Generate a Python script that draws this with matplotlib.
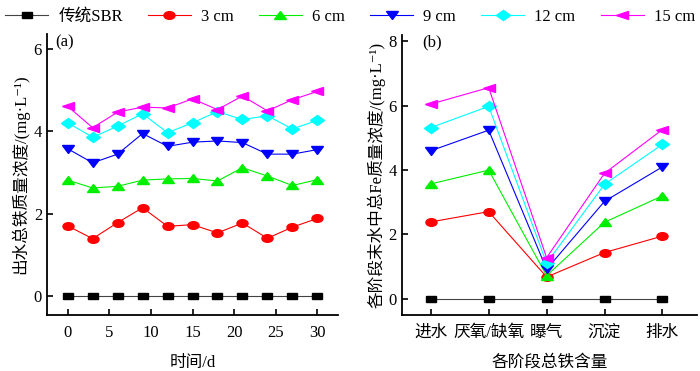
import matplotlib
matplotlib.use("Agg")
import matplotlib.pyplot as plt
from matplotlib.markers import MarkerStyle
from matplotlib.transforms import Affine2D

plt.rcParams['font.family'] = ['Liberation Serif', 'Noto Sans CJK SC', 'DejaVu Sans']

# ---- data ----
series_labels = ['传统SBR', '3 cm', '6 cm', '9 cm', '12 cm', '15 cm']
days = [0, 3, 6, 9, 12, 15, 18, 21, 24, 27, 30]
a_sbr = [0, 0, 0, 0, 0, 0, 0, 0, 0, 0, 0]
a_3 = [1.70, 1.39, 1.78, 2.14, 1.69, 1.73, 1.53, 1.77, 1.40, 1.67, 1.88]
a_6 = [2.81, 2.62, 2.66, 2.81, 2.84, 2.85, 2.79, 3.11, 2.91, 2.68, 2.82]
a_9 = [3.57, 3.23, 3.44, 3.94, 3.63, 3.73, 3.76, 3.72, 3.44, 3.44, 3.55]
a_12 = [4.20, 3.85, 4.12, 4.42, 3.96, 4.20, 4.47, 4.28, 4.37, 4.05, 4.26]
a_15 = [4.60, 4.08, 4.46, 4.58, 4.56, 4.78, 4.52, 4.85, 4.49, 4.76, 4.96]

stages = ['进水', '厌氧/缺氧', '曝气', '沉淀', '排水']
b_sbr = [0, 0, 0, 0, 0]
b_3 = [2.39, 2.71, 0.68, 1.44, 1.95]
b_6 = [3.57, 4.00, 0.72, 2.38, 3.20]
b_9 = [4.60, 5.24, 0.92, 3.03, 4.10]
b_12 = [5.32, 5.98, 1.11, 3.56, 4.80]
b_15 = [6.05, 6.56, 1.28, 3.90, 5.26]

a_x_ticks = [0, 5, 10, 15, 20, 25, 30]

# ---- styles ----
colors = ['#444444', '#ff0000', '#00ee00', '#0000ff', '#00ffff', '#ff00ff']
base_markers = ['s', 'o', '^', 'v', 'D', '<']
msizes = [5, 5.5, 5.5, 5.5, 5, 5.5]

def mk(m):
    return MarkerStyle(m, transform=Affine2D().scale(1.45, 1.0))

fig = plt.figure(figsize=(7.0, 3.71), dpi=100)
axa = fig.add_axes([0.067, 0.151, 0.416, 0.757])
axb = fig.add_axes([0.574, 0.151, 0.422, 0.755])

a_series = [a_sbr, a_3, a_6, a_9, a_12, a_15]
b_series = [b_sbr, b_3, b_6, b_9, b_12, b_15]
bx = list(range(len(stages)))

handles = []
for i in range(6):
    mc = 'black' if i == 0 else colors[i]
    h, = axa.plot(days, a_series[i], color=colors[i], lw=0.8,
                  marker=mk(base_markers[i]), ms=msizes[i],
                  mfc=mc, mec=mc, label=series_labels[i])
    handles.append(h)
    axb.plot(bx, b_series[i], color=colors[i], lw=0.8,
             marker=mk(base_markers[i]), ms=msizes[i], mfc=mc, mec=mc)

fs = 12
for ax in (axa, axb):
    ax.spines['top'].set_visible(False)
    ax.spines['right'].set_visible(False)
    ax.spines['left'].set_linewidth(1.3)
    ax.spines['bottom'].set_linewidth(1.3)
    ax.tick_params(direction='in', length=4, width=1.2, labelsize=fs)
    ax.tick_params(axis='x', pad=7)

axa.set_xlim(-2.5, 32.5)
axa.set_ylim(-0.46, 6.35)
axa.set_xticks(a_x_ticks)
axa.set_yticks([0, 2, 4, 6])
axa.set_xlabel('时间/d', fontsize=fs, labelpad=10)
axa.set_ylabel('出水总铁质量浓度/(mg·L⁻¹)', fontsize=fs, labelpad=3)
axa.text(0.03, 1.0, '(a)', transform=axa.transAxes, fontsize=fs, va='top', ha='left')

axb.set_xlim(-0.5, 4.6)
axb.set_ylim(-0.5, 8.2)
axb.set_xticks(bx)
axb.set_xticklabels(stages)
axb.set_yticks([0, 2, 4, 6, 8])
axb.set_xlabel('各阶段总铁含量', fontsize=fs, labelpad=10)
axb.set_ylabel('各阶段末水中总Fe质量浓度/(mg·L⁻¹)', fontsize=fs, labelpad=2)
axb.text(0.07, 1.0, '(b)', transform=axb.transAxes, fontsize=fs, va='top', ha='left')

fig.legend(handles=handles, loc='center', bbox_to_anchor=(0.5, 0.955), ncol=6,
           frameon=False, handlelength=2.6, handletextpad=0.6, columnspacing=1.5,
           fontsize=fs, borderaxespad=0)

fig.savefig('out.png', dpi=100)
